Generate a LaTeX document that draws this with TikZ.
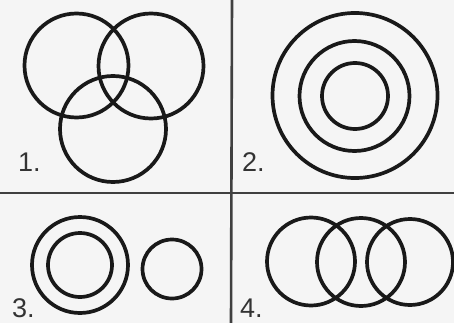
\documentclass[tikz,border=0pt]{standalone}
\usepackage{fontspec}
\setmainfont{Liberation Sans}
\begin{document}
\begin{tikzpicture}[x=1pt,y=-1pt,
  ring/.style={draw=black!90,line width=3.7pt},
  divider/.style={draw=black!75,line width=2.6pt},
  lbl/.style={anchor=base west,inner sep=0pt,font=\fontsize{27}{27}\selectfont,text=black!80}]
\useasboundingbox[fill=black!4] (0,0) rectangle (454,323);
% dividers
\coordinate (vt) at (232,0);
\coordinate (vb) at (231,323);
\coordinate (hl) at (0,193);
\coordinate (hr) at (454,193);
\draw[divider] (vt) -- (vb);
\draw[divider] (hl) -- (hr);
% panel 1
\node[ring,circle,minimum size=104pt,inner sep=0pt] (p1a) at (76.5,65.5) {};
\node[ring,circle,minimum size=105pt,inner sep=0pt] (p1b) at (151,66) {};
\node[ring,circle,minimum size=106pt,inner sep=0pt] (p1c) at (113,129) {};
\node[lbl] (l1) at (18,171) {1.};
% panel 2
\node[ring,circle,minimum size=165pt,inner sep=0pt] (p2a) at (355,95.5) {};
\node[ring,circle,minimum size=110pt,inner sep=0pt] (p2b) at (354.5,96) {};
\node[ring,circle,minimum size=66pt,inner sep=0pt] (p2c) at (355,96) {};
\node[lbl] (l2) at (242,171) {2.};
% panel 3
\node[ring,circle,minimum size=96pt,inner sep=0pt] (p3a) at (80,265) {};
\node[ring,circle,minimum size=64pt,inner sep=0pt] (p3b) at (80,265) {};
\node[ring,circle,minimum size=59pt,inner sep=0pt] (p3c) at (172,269) {};
\node[lbl] (l3) at (12,317) {3.};
% panel 4
\node[ring,circle,minimum size=88pt,inner sep=0pt] (p4a) at (311,261.5) {};
\node[ring,circle,minimum size=88pt,inner sep=0pt] (p4b) at (361,262) {};
\node[ring,circle,minimum size=86pt,inner sep=0pt] (p4c) at (410,262) {};
\node[lbl] (l4) at (240,317) {4.};
\end{tikzpicture}
\end{document}
